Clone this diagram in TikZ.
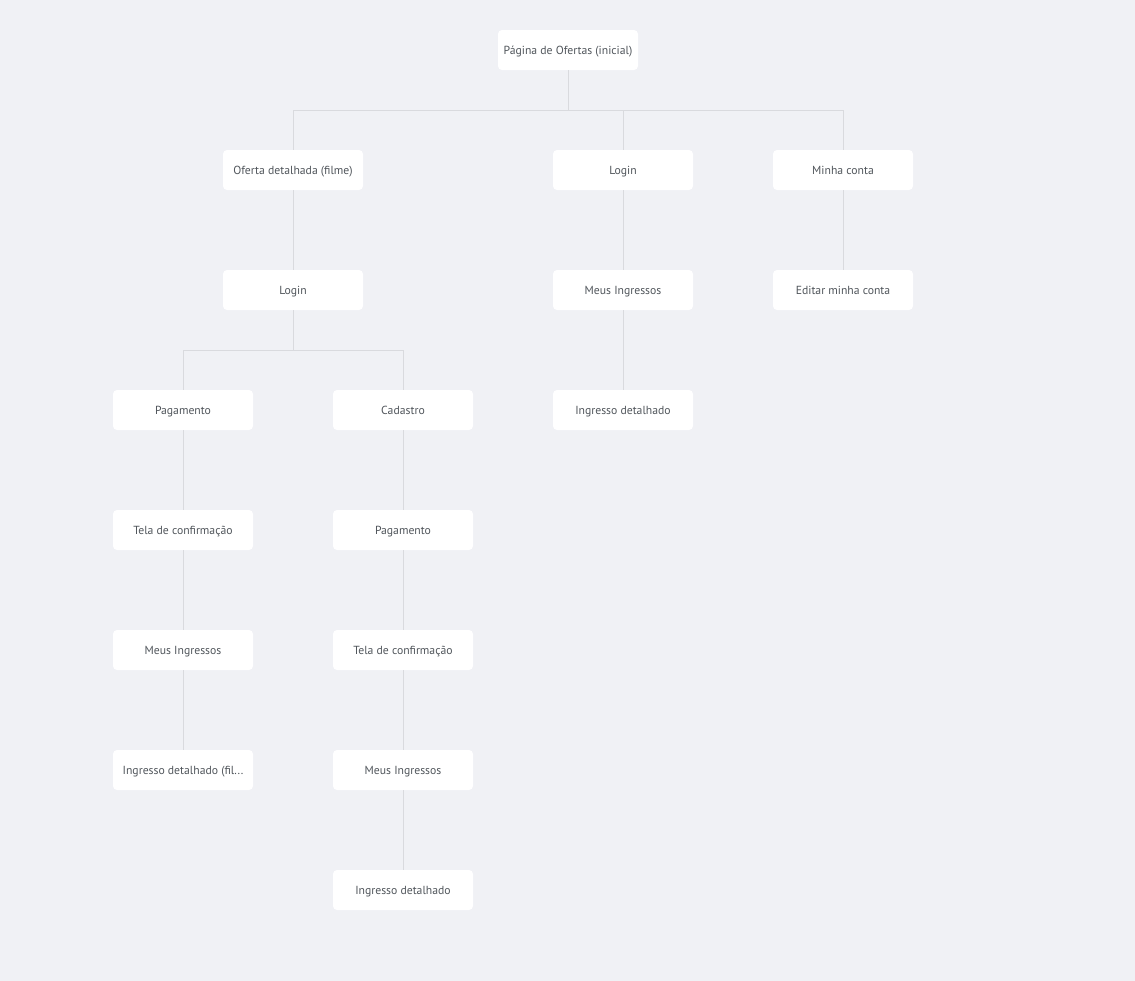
\documentclass[tikz,border=0pt]{standalone}
\usepackage{fontspec}
\setmainfont{PT Sans}
\definecolor{bgcol}{HTML}{F0F1F5}
\definecolor{linecol}{HTML}{D9DADE}
\definecolor{txtcol}{HTML}{50555B}
\begin{document}
\begin{tikzpicture}[x=1pt,y=-1pt,
  box/.style={draw=none,fill=white,rounded corners=4pt,minimum width=140pt,minimum height=40pt,
    inner sep=0pt,text height=9pt,text depth=1pt,
    font=\fontsize{11.7}{13}\selectfont,text=txtcol},
  link/.style={draw=linecol,line width=1pt}]
\useasboundingbox (0,0) rectangle (1135,980);
\fill[bgcol] (-10,-10) rectangle (1145,990);
% level 0
\node[box] (root) at (568,50) {Página de Ofertas (inicial)};
% level 1
\node[box] (oferta) at (293,170) {Oferta detalhada (filme)};
\node[box] (loginA) at (623,170) {Login};
\node[box] (conta) at (843,170) {Minha conta};
% level 2
\node[box] (loginB) at (293,290) {Login};
\node[box] (meusA) at (623,290) {Meus Ingressos};
\node[box] (editar) at (843,290) {Editar minha conta};
% level 3
\node[box] (pagA) at (183,410) {Pagamento};
\node[box] (cad) at (403,410) {Cadastro};
\node[box] (ingA) at (623,410) {Ingresso detalhado};
% level 4
\node[box] (telaA) at (183,530) {Tela de confirmação};
\node[box] (pagB) at (403,530) {Pagamento};
% level 5
\node[box] (meusB) at (183,650) {Meus Ingressos};
\node[box] (telaB) at (403,650) {Tela de confirmação};
% level 6
\node[box] (ingB) at (183,770) {Ingresso detalhado (fil...};
\node[box] (meusC) at (403,770) {Meus Ingressos};
% level 7
\node[box] (ingC) at (403,890) {Ingresso detalhado};
% branching connectors
\coordinate (j0) at (568,110);
\draw[link] (root.south) -- (j0);
\draw[link] (oferta.north) |- (j0);
\draw[link] (conta.north) |- (j0);
\draw[link] (loginA.north) -- (loginA.north |- j0);
\coordinate (j1) at (293,350);
\draw[link] (loginB.south) -- (j1);
\draw[link] (pagA.north) |- (j1);
\draw[link] (cad.north) |- (j1);
% straight connectors
\draw[link] (oferta) -- (loginB);
\draw[link] (loginA) -- (meusA);
\draw[link] (meusA) -- (ingA);
\draw[link] (conta) -- (editar);
\draw[link] (pagA) -- (telaA);
\draw[link] (telaA) -- (meusB);
\draw[link] (meusB) -- (ingB);
\draw[link] (cad) -- (pagB);
\draw[link] (pagB) -- (telaB);
\draw[link] (telaB) -- (meusC);
\draw[link] (meusC) -- (ingC);
\end{tikzpicture}
\end{document}
